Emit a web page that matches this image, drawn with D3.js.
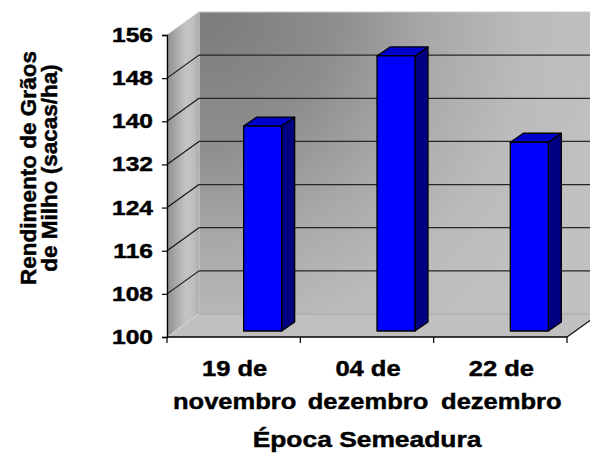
<!DOCTYPE html>
<html>
<head>
<meta charset="utf-8">
<script src="https://cdn.jsdelivr.net/npm/d3@7/dist/d3.min.js"></script>
<style>
  body { margin: 0; background: #fff; }
  text { font-family: Arial, "Liberation Sans", sans-serif; font-weight: bold; fill: #000; stroke: #000; stroke-width: 0.45px; }
</style>
</head>
<body>
<svg id="chart" width="590" height="455"></svg>
<script>
// Sowing dates and maize grain yield (sacas/ha)
const categories = ["19 de novembro", "04 de dezembro", "22 de dezembro"];
const values = [138, 151, 135];
const yTicks = [100, 108, 116, 124, 132, 140, 148, 156];
const yTitle = ["Rendimento de Grãos", "de Milho (sacas/ha)"];
const xTitle = "Época Semeadura";

(function () {
const svg = d3.select("#chart");

// Front plane of the 3D box
const plotL = 167, plotR = 567, plotT = 35, plotB = 337;
// Oblique depth offset of the box
const depthX = 32, depthY = 23;

const x = d3.scaleBand().domain(categories).range([plotL, plotR]).paddingInner(0).paddingOuter(0);
const y = d3.scaleLinear().domain([100, 156]).range([plotB, plotT]);

// Bars: front face sits a little into the depth of the box
const barW = 38, barShift = 29, barDX = 13, barDY = 9, barLift = 6;

const defs = svg.append("defs");
const wallGrad = defs.append("radialGradient").attr("id", "wallGrad")
  .attr("gradientUnits", "userSpaceOnUse")
  .attr("cx", plotL + depthX + 10).attr("cy", plotT - depthY + 5).attr("r", 410);
[[0, "#7c7c7c"], [0.3, "#8d8d8d"], [0.55, "#a9a9a9"], [0.78, "#bbbbbb"], [1, "#c1c1c1"]]
  .forEach(([o, c]) => wallGrad.append("stop").attr("offset", o).attr("stop-color", c));

const sideGrad = defs.append("linearGradient").attr("id", "sideGrad")
  .attr("x1", 0).attr("x2", 1).attr("y1", 0).attr("y2", 0);
[[0, "#8e8e8e"], [0.45, "#b8b8b8"], [0.6, "#c4c4c4"], [0.85, "#bdbdbd"], [1, "#a9a9a9"]]
  .forEach(([o, c]) => sideGrad.append("stop").attr("offset", o).attr("stop-color", c));

// Back wall
svg.append("rect")
  .attr("x", plotL + depthX).attr("y", plotT - depthY)
  .attr("width", plotR - plotL).attr("height", plotB - plotT)
  .attr("fill", "url(#wallGrad)").attr("stroke", "#c8c8c8").attr("stroke-width", 1);

// Side wall
svg.append("polygon")
  .attr("points", [[plotL, plotT], [plotL + depthX, plotT - depthY], [plotL + depthX, plotB - depthY], [plotL, plotB]].join(" "))
  .attr("fill", "url(#sideGrad)").attr("stroke", "#c4c4c4").attr("stroke-width", 0.8);

// Floor
svg.append("polygon")
  .attr("points", [[plotL, plotB], [plotR, plotB], [plotR + depthX, plotB - depthY], [plotL + depthX, plotB - depthY]].join(" "))
  .attr("fill", "#c0c0c0");
svg.append("line")
  .attr("x1", plotL + depthX).attr("x2", plotR + depthX)
  .attr("y1", plotB - depthY).attr("y2", plotB - depthY)
  .attr("stroke", "#a4a4a4").attr("stroke-width", 1);
svg.append("line")
  .attr("x1", plotL).attr("y1", plotB).attr("x2", plotL + depthX).attr("y2", plotB - depthY)
  .attr("stroke", "#e4e4e4").attr("stroke-width", 1).attr("stroke-dasharray", "1.5,1");
svg.append("line")
  .attr("x1", plotR).attr("y1", plotB).attr("x2", plotR + depthX).attr("y2", plotB - depthY)
  .attr("stroke", "#111").attr("stroke-width", 1.2);

// Gridlines on back and side walls
const grid = yTicks.filter(v => v > 100 && v < 156);
svg.append("g").selectAll("line").data(grid).join("line")
  .attr("x1", plotL + depthX).attr("x2", plotR + depthX)
  .attr("y1", d => y(d) - depthY).attr("y2", d => y(d) - depthY)
  .attr("stroke", "#262626").attr("stroke-width", 1.3);
svg.append("g").selectAll("line").data(grid).join("line")
  .attr("x1", plotL).attr("y1", d => y(d))
  .attr("x2", plotL + depthX).attr("y2", d => y(d) - depthY)
  .attr("stroke", "#111").attr("stroke-width", 1.1);

// Bars
const barG = svg.append("g");
categories.forEach((c, i) => {
  const x0 = x(c) + x.bandwidth() / 2 + barShift - barW / 2;
  const x1 = x0 + barW;
  const yb = y(100) - barLift;
  const yt = y(values[i]) - barLift;
  const g = barG.append("g").attr("stroke", "#000").attr("stroke-width", 1.3).attr("stroke-linejoin", "round");
  g.append("polygon")
    .attr("points", [[x1, yt], [x1 + barDX, yt - barDY], [x1 + barDX, yb - barDY], [x1, yb]].join(" "))
    .attr("fill", "#000080");
  g.append("polygon")
    .attr("points", [[x0, yt], [x0 + barDX, yt - barDY], [x1 + barDX, yt - barDY], [x1, yt]].join(" "))
    .attr("fill", "#0000cc");
  g.append("rect")
    .attr("x", x0).attr("y", yt).attr("width", barW).attr("height", yb - yt)
    .attr("fill", "#0000ff");
});

// Value axis
const yAxis = svg.append("g").attr("transform", `translate(${plotL},0)`)
  .call(d3.axisLeft(y).tickValues(yTicks).tickSize(5).tickFormat(""));
yAxis.select(".domain").attr("stroke", "#000").attr("stroke-width", 1.3);
yAxis.selectAll(".tick line").attr("stroke", "#000").attr("stroke-width", 1.2);

svg.append("g").selectAll("text").data(yTicks).join("text")
  .attr("text-anchor", "end")
  .attr("font-size", 19.5)
  .attr("transform", d => `translate(${plotL - 14},${y(d) + 7}) scale(1.26,1)`)
  .text(d => d);

// Category axis
svg.append("line")
  .attr("x1", plotL).attr("x2", plotR).attr("y1", plotB).attr("y2", plotB)
  .attr("stroke", "#000").attr("stroke-width", 1.3);
const bounds = categories.map(c => x(c)).concat([plotR]);
svg.append("g").selectAll("line").data(bounds).join("line")
  .attr("x1", d => d).attr("x2", d => d)
  .attr("y1", plotB).attr("y2", plotB + 6)
  .attr("stroke", "#000").attr("stroke-width", 1.2);

const catG = svg.append("g");
categories.forEach(c => {
  const cut = c.lastIndexOf(" ");
  const lines = [c.slice(0, cut), c.slice(cut + 1)];
  const cx = x(c) + x.bandwidth() / 2 + 1;
  lines.forEach((t, j) => {
    catG.append("text")
      .attr("text-anchor", "middle")
      .attr("font-size", 22)
      .attr("transform", `translate(${cx},${376 + j * 33}) scale(1.16,1)`)
      .text(t);
  });
});

// Axis titles
svg.append("text")
  .attr("text-anchor", "middle").attr("font-size", 22)
  .attr("transform", `translate(${(plotL + plotR) / 2},447) scale(1.2,1)`)
  .text(xTitle);

yTitle.forEach((t, j) => {
  svg.append("text")
    .attr("text-anchor", "middle").attr("font-size", 22.5)
    .attr("transform", `translate(${36 + j * 21},168) rotate(-90)`)
    .text(t);
});
})();
</script>
</body>
</html>
